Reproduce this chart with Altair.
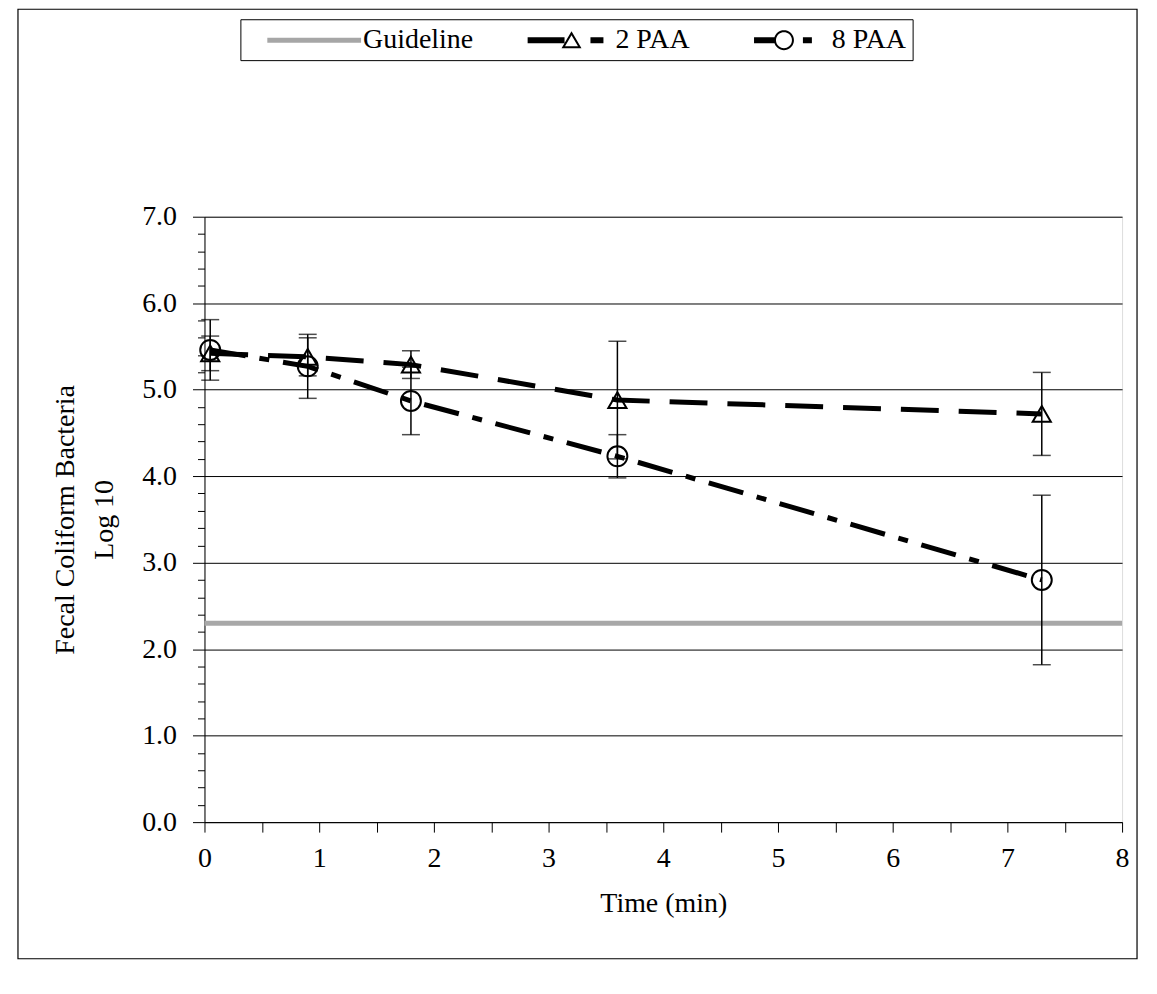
import math
import altair as alt
import pandas as pd

# ---------------- data ----------------
time = [0.05, 0.9, 1.8, 3.6, 7.3]
paa2 = [5.42, 5.38, 5.29, 4.88, 4.72]
paa2_err = [0.20, 0.22, 0.16, 0.68, 0.48]
paa8 = [5.46, 5.27, 4.87, 4.23, 2.80]
paa8_err = [0.35, 0.37, 0.39, 0.25, 0.98]
guideline_value = 2.3
x_domain = [0, 8]
y_domain = [0, 7]
series_names = ["Guideline", "2 PAA", "8 PAA"]
x_tick_values = [i * 0.5 for i in range(17)]
y_tick_values = [round(i * 0.2, 1) for i in range(36)]

FONT = "Liberation Serif"
FS = 28

df2 = pd.DataFrame({"time": time, "value": paa2,
                    "lo": [v - e for v, e in zip(paa2, paa2_err)],
                    "hi": [v + e for v, e in zip(paa2, paa2_err)],
                    "series": "2 PAA"})
df8 = pd.DataFrame({"time": time, "value": paa8,
                    "lo": [v - e for v, e in zip(paa8, paa8_err)],
                    "hi": [v + e for v, e in zip(paa8, paa8_err)],
                    "series": "8 PAA"})
dfall = pd.concat([df2, df8], ignore_index=True)
guide_df = pd.DataFrame({"time": x_domain, "value": [guideline_value] * 2})

# ---------------- axes ----------------
is_int = "abs(datum.value - round(datum.value)) < 0.01"
x_axis = alt.Axis(values=x_tick_values,
                  labelExpr=f"{is_int} ? format(datum.value, 'd') : ''",
                  tickSize=10, tickColor="black", domainColor="black",
                  labelFont=FONT, labelFontSize=FS, labelColor="black",
                  labelPadding=12, grid=False, labelFlush=False,
                  title="Time (min)", titleFont=FONT, titleFontSize=FS,
                  titleFontWeight="normal", titleColor="black", titlePadding=18)
y_axis = alt.Axis(values=y_tick_values,
                  labelExpr=f"{is_int} ? format(datum.value, '.1f') : ''",
                  tickSize={"condition": {"test": is_int, "value": 12}, "value": 7},
                  tickColor="black", domainColor="black",
                  labelFont=FONT, labelFontSize=FS, labelColor="black",
                  labelPadding=16, labelFlush=False,
                  grid=True, gridColor="black", gridWidth=1,
                  gridOpacity={"condition": {"test": is_int, "value": 1}, "value": 0},
                  title=["Fecal Coliform Bacteria", "Log 10"], titleFont=FONT,
                  titleFontSize=FS, titleFontWeight="normal", titleColor="black",
                  titlePadding=23, titleLineHeight=39)

xs = alt.Scale(domain=x_domain, nice=False)
ys = alt.Scale(domain=y_domain, nice=False)
X = alt.X("time:Q", scale=xs, axis=x_axis)


def Yf(field):
    return alt.Y(f"{field}:Q", scale=ys, axis=y_axis)


# ---------------- legend glyphs (custom symbol paths, pixel units / 15) ----------------
U = 15.0  # half of sqrt(symbolSize)


def f(v):
    return f"{v / U:.4f}"


def rect(x1, y1, x2, y2):
    return f"M{f(x1)},{f(y1)}L{f(x2)},{f(y1)}L{f(x2)},{f(y2)}L{f(x1)},{f(y2)}Z"


def poly(pts):
    return "M" + "L".join(f"{f(x)},{f(y)}" for x, y in pts) + "Z"


def ring(cx, r_out, r_in, n=36):
    outer = [(cx + r_out * math.cos(2 * math.pi * k / n), r_out * math.sin(2 * math.pi * k / n)) for k in range(n)]
    inner = [(cx + r_in * math.cos(-2 * math.pi * k / n), r_in * math.sin(-2 * math.pi * k / n)) for k in range(n)]
    return poly(outer) + poly(inner)


def open_triangle(cx):
    outer = [(cx, -9), (cx + 10, 8), (cx - 10, 8)]
    inner = [(cx, -5), (cx - 6.5, 6), (cx + 6.5, 6)]
    return poly(outer) + poly(inner)


glyph_guide = rect(6, -2.5, 100, 2.5)
glyph_tri = rect(14, -3, 51, 3) + open_triangle(58) + rect(77, -3, 90, 3)
glyph_circ = rect(24, -3, 45.5, 3) + ring(54, 10, 8) + rect(73, -3, 82, 3)

legend = alt.Legend(title=None, orient="none", legendX=36, legendY=-198,
                    direction="horizontal", strokeColor="black", fillColor="white",
                    padding=6, labelFont=FONT, labelFontSize=FS, labelColor="black",
                    symbolSize=900, symbolStrokeWidth=0, columnPadding=25,
                    labelOffset=87)

legend_layer = alt.Chart(dfall).transform_filter("false").mark_point(
    filled=True, opacity=1, strokeWidth=0).encode(
    x=X, y=Yf("value"),
    shape=alt.Shape("series:N", scale=alt.Scale(domain=series_names,
                    range=[glyph_guide, glyph_tri, glyph_circ]), legend=legend),
    color=alt.Color("series:N", scale=alt.Scale(domain=series_names,
                    range=["#a6a6a6", "black", "black"]), legend=legend),
)

# ---------------- layers ----------------
guide = alt.Chart(guide_df).mark_line(color="#a8a8a8", strokeWidth=5).encode(
    x=X, y=Yf("value"))

line2 = alt.Chart(df2).mark_line(color="black", strokeWidth=5, strokeDash=[38, 20],
                                  strokeCap="butt").encode(x=X, y=Yf("value"))
line8 = alt.Chart(df8).mark_line(color="black", strokeWidth=5,
                                  strokeDash=[36, 14, 10, 14],
                                  strokeCap="butt").encode(x=X, y=Yf("value"))

err = alt.Chart(dfall).mark_rule(color="black", strokeWidth=1.5).encode(
    x=X, y=Yf("lo"), y2="hi:Q")
caps = alt.Chart(dfall).transform_fold(["lo", "hi"], as_=["end", "yv"]).mark_tick(
    orient="horizontal", color="black", thickness=1.5, size=18).encode(
    x=X, y=Yf("yv"))

pts2 = alt.Chart(df2).mark_point(shape="triangle-up", filled=False, color="black",
                                 strokeWidth=2, size=330, opacity=1).encode(
    x=X, y=Yf("value"))
pts8 = alt.Chart(df8).mark_point(shape="circle", filled=False, color="black",
                                 strokeWidth=2, size=400, opacity=1).encode(
    x=X, y=Yf("value"))

frame = alt.Chart(pd.DataFrame({"k": [0]})).mark_rect(
    fillOpacity=0, stroke="black", strokeWidth=1.2, clip=False).encode(
    x=alt.value(-187), x2=alt.value(935), y=alt.value(-208), y2=alt.value(744))

chart = alt.layer(frame, guide, line2, line8, err, caps, pts2, pts8, legend_layer).properties(
    width=920, height=607,
    autosize=alt.AutoSizeParams(type="none"),
    padding={"left": 197, "top": 208, "right": 27, "bottom": 150},
).configure_view(stroke="black", strokeWidth=1).configure(background="white")

chart.save("out.html", embed_options={"renderer": "svg", "actions": False})
